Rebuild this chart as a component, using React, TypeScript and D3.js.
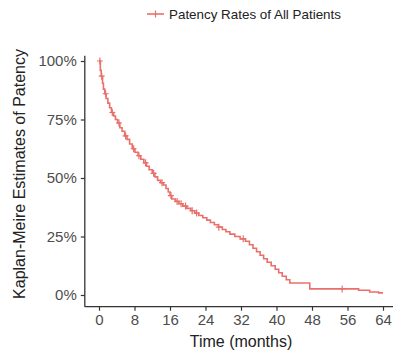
import * as d3 from 'd3'
import { useEffect, useRef } from 'react'

// KM step times (months) and estimated patency at each step
const stepTimes = [0, 0.3, 0.5, 0.8, 1.0, 1.3, 1.6, 2.0, 2.4, 2.8, 3.3, 3.7, 4.2, 4.7, 5.2, 5.8, 6.3, 6.9, 7.5, 8.1, 8.8, 9.4, 10.1, 10.7, 11.3, 12.0, 12.6, 13.2, 13.9, 14.5, 15.1, 15.6, 16.0, 16.4, 17.2, 18.0, 18.9, 19.8, 20.7, 21.6, 22.5, 23.4, 24.3, 25.1, 26.0, 26.9, 27.8, 28.6, 29.5, 30.6, 31.8, 33.0, 33.9, 34.7, 35.5, 36.3, 37.1, 37.9, 38.8, 39.7, 40.5, 41.3, 42.2, 43.0, 47.5, 58.5, 61.0, 63.0, 64.0]
const stepSurv = [1.0, 0.96, 0.935, 0.905, 0.88, 0.86, 0.84, 0.82, 0.8, 0.78, 0.765, 0.75, 0.735, 0.715, 0.7, 0.68, 0.665, 0.645, 0.625, 0.61, 0.595, 0.58, 0.565, 0.55, 0.535, 0.52, 0.505, 0.49, 0.48, 0.47, 0.455, 0.44, 0.425, 0.41, 0.4, 0.39, 0.38, 0.37, 0.36, 0.35, 0.34, 0.33, 0.32, 0.31, 0.3, 0.29, 0.28, 0.27, 0.26, 0.25, 0.24, 0.23, 0.215, 0.2, 0.185, 0.17, 0.155, 0.14, 0.125, 0.11, 0.095, 0.08, 0.065, 0.051, 0.026, 0.02, 0.013, 0.009, 0.009]
// censored observations (months)
const censorTimes = [0.2, 0.6, 1.5, 3.0, 4.5, 6.0, 7.8, 9.0, 10.5, 12.3, 14.2, 16.2, 17.6, 18.5, 19.5, 21.0, 22.0, 27.0, 32.5, 54.8]

const xTicks = [0, 8, 16, 24, 32, 40, 48, 56, 64]
const yTicks = [0, 0.25, 0.5, 0.75, 1]
const legendLabel = 'Patency Rates of All Patients'
const xTitle = 'Time (months)'
const yTitle = 'Kaplan-Meire Estimates of Patency'

const width = 393
const height = 354
const red = '#E9706A'
const axisCol = '#333333'
const labelCol = '#4D4D4D'
const font = 'Liberation Sans, Arial, sans-serif'

export default function App() {
  const ref = useRef<SVGSVGElement>(null)

  useEffect(() => {
    const svg = d3.select(ref.current)
    svg.selectAll('*').remove()

    const x = d3.scaleLinear().domain([0, 64]).range([99, 383])
    const y = d3.scaleLinear().domain([0, 1]).range([295, 61])

    const data = stepTimes.map((t, i) => ({ t, s: stepSurv[i] }))
    const survAt = (t: number) => {
      let s = 1
      data.forEach(d => { if (d.t <= t) s = d.s })
      return s
    }

    // axis lines
    svg.append('line')
      .attr('x1', x(-3.2)).attr('x2', width)
      .attr('y1', y(-0.05)).attr('y2', y(-0.05))
      .attr('stroke', axisCol).attr('stroke-width', 1.3)
    svg.append('line')
      .attr('x1', x(-3.2)).attr('x2', x(-3.2))
      .attr('y1', y(1.022)).attr('y2', y(-0.05))
      .attr('stroke', axisCol).attr('stroke-width', 1.3)

    const xAxis = d3.axisBottom(x).tickValues(xTicks).tickSize(4).tickPadding(4)
    const yAxis = d3.axisLeft(y).tickValues(yTicks).tickSize(4).tickPadding(4)
      .tickFormat(d => `${Math.round(+d * 100)}%`)

    const xg = svg.append('g')
      .attr('transform', `translate(0, ${y(-0.05)})`)
      .call(xAxis)
    const yg = svg.append('g')
      .attr('transform', `translate(${x(-3.2)}, 0)`)
      .call(yAxis)
    ;[xg, yg].forEach(g => {
      g.select('.domain').remove()
      g.selectAll('line').attr('stroke', axisCol).attr('stroke-width', 1.2)
      g.selectAll('text')
        .attr('fill', labelCol)
        .attr('font-family', font)
        .attr('font-size', 15)
    })

    // titles
    svg.append('text')
      .attr('x', 241).attr('y', 347)
      .attr('text-anchor', 'middle')
      .attr('font-family', font).attr('font-size', 16)
      .attr('fill', '#222')
      .text(xTitle)
    svg.append('text')
      .attr('transform', `translate(25, 174) rotate(-90)`)
      .attr('text-anchor', 'middle')
      .attr('font-family', font).attr('font-size', 16)
      .attr('fill', '#222')
      .text(yTitle)

    // KM curve
    const line = d3.line<{ t: number, s: number }>()
      .curve(d3.curveStepAfter)
      .x(d => x(d.t))
      .y(d => y(d.s))
    svg.append('path')
      .datum(data)
      .attr('fill', 'none')
      .attr('stroke', red)
      .attr('stroke-width', 1.6)
      .attr('d', line)

    // censor marks
    svg.selectAll('path.censor')
      .data(censorTimes)
      .join('path')
      .attr('class', 'censor')
      .attr('fill', 'none')
      .attr('stroke', red)
      .attr('stroke-width', 1.2)
      .attr('d', t => {
        const cx = x(t), cy = y(survAt(t))
        return `M${cx - 3},${cy}H${cx + 3}M${cx},${cy - 3.5}V${cy + 3.5}`
      })

    // legend
    const lg = svg.append('g').attr('transform', 'translate(147, 14)')
    lg.append('line').attr('x1', 0).attr('x2', 17).attr('y1', 0).attr('y2', 0)
      .attr('stroke', red).attr('stroke-width', 1.6)
    lg.append('line').attr('x1', 8.5).attr('x2', 8.5).attr('y1', -3.5).attr('y2', 3.5)
      .attr('stroke', red).attr('stroke-width', 1.2)
    lg.append('text')
      .attr('x', 22).attr('y', 4.8)
      .attr('font-family', font).attr('font-size', 13.4)
      .attr('fill', '#222')
      .text(legendLabel)
  }, [])

  return (
    <svg ref={ref} width={width} height={height}
      style={{ position: 'absolute', left: 0, top: 0, background: '#fff' }} />
  )
}
